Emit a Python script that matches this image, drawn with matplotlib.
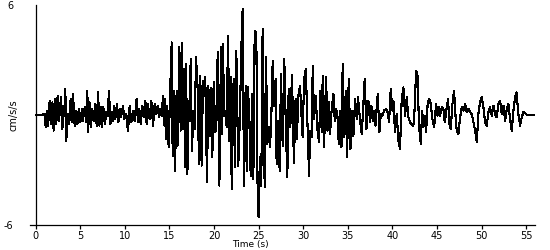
import matplotlib
matplotlib.use("Agg")
import matplotlib.pyplot as plt

# Time of each peak/trough (s)
time_s = [
    0.0, 0.74, 1.0, 1.12, 1.27, 1.38, 1.57, 1.68, 1.87, 2.01, 2.16, 2.31, 2.46, 2.61,
    2.84, 2.99, 3.10, 3.25, 3.32, 3.43, 3.58, 3.73, 3.92, 4.03, 4.18, 4.37, 4.56, 4.67,
    4.86, 5.0, 5.19, 5.3, 5.49, 5.68, 5.79, 5.87, 6.05, 6.2, 6.35, 6.5, 6.69, 6.84,
    6.99, 7.14, 7.29, 7.44, 7.59, 7.77, 7.92, 8.07, 8.22, 8.37, 8.52, 8.67, 8.82, 8.93,
    9.12, 9.27, 9.42, 9.57, 9.79, 9.94, 10.16, 10.35, 10.54, 10.72, 10.91, 11.1, 11.32,
    11.47, 11.62, 11.77, 11.96, 12.11, 12.3, 12.44, 12.59, 12.78, 12.97, 13.16, 13.34,
    13.53, 13.68, 13.83, 13.98, 14.13, 14.28, 14.43, 14.54,
    14.61, 14.76, 14.91, 15.06, 15.25, 15.36, 15.51, 15.62, 15.81, 15.92, 16.11, 16.26,
    16.37, 16.48, 16.63, 16.74, 16.86, 17.01, 17.16, 17.27, 17.38, 17.53, 17.68, 17.83,
    17.98, 18.16, 18.31, 18.46, 18.61, 18.76, 18.91, 19.02, 19.21, 19.36, 19.55, 19.66,
    19.81, 19.96, 20.15, 20.3, 20.41, 20.6, 20.78, 20.89, 21.01, 21.12, 21.27, 21.42,
    21.57, 21.72, 21.87, 21.98,
    22.2, 22.35, 22.5, 22.72, 22.91, 23.06, 23.21, 23.36, 23.55, 23.66, 23.81, 23.96,
    24.11, 24.26, 24.41, 24.56, 24.74, 24.89, 25.0, 25.15, 25.3, 25.45, 25.68, 25.83,
    25.98, 26.13, 26.28, 26.43, 26.58, 26.72, 26.91, 27.02, 27.21, 27.36, 27.51, 27.7,
    27.88, 28.07, 28.22, 28.37, 28.56, 28.74, 28.96, 29.15, 29.3, 29.45, 29.64, 29.94,
    30.1, 30.29, 30.66, 30.77, 30.96, 31.07, 31.22, 31.41, 31.59, 31.78, 31.93, 32.08,
    32.19, 32.34, 32.57, 32.72, 32.87, 33.01, 33.2, 33.39, 33.54, 33.69, 33.84, 33.99,
    34.14, 34.29, 34.43, 34.62, 34.77, 34.92, 35.11, 35.3, 35.48, 35.63, 35.82, 36.01,
    36.15, 36.38, 36.57, 36.75, 36.9, 37.09, 37.31, 37.5, 37.65, 37.8, 37.95, 38.1,
    38.36, 38.55, 38.7, 38.88, 39.07, 39.3, 39.44, 39.63, 39.82, 40.0, 40.12, 40.3,
    40.49, 40.68, 40.86, 41.05, 41.24, 41.43, 41.61, 41.8, 41.99, 42.18, 42.36,
    42.51, 42.66, 42.81, 43.0, 43.19, 43.34, 43.48, 43.63, 43.78, 43.97, 44.16, 44.31,
    44.49, 44.68, 44.91, 45.06, 45.2, 45.35, 45.54, 45.73, 45.88, 46.1, 46.25, 46.4,
    46.55, 46.74, 46.92, 47.07, 47.22, 47.41, 47.6, 47.78, 47.97, 48.16, 48.35, 48.53,
    48.72, 48.91, 49.09, 49.28, 49.47, 49.65, 49.84, 50.03, 50.21, 50.4, 50.59, 50.77,
    50.96, 51.15, 51.34, 51.52, 51.71, 51.9, 52.08, 52.27, 52.46, 52.65, 52.83, 53.02,
    53.2, 53.39, 53.58, 53.77, 53.92, 54.14, 54.33, 54.51, 54.7, 54.89, 55.07, 56.0,
]

# Acceleration at those times (cm/s/s)
accel = [
    0.0, 0.0, 0.07, -0.67, 0.24, -0.58, 0.78, -0.49, 0.69, -0.85, 0.87, -0.49, 1.05, -0.31,
    0.96, -0.76, 0.51, -0.04, 1.42, -1.4, 0.05, -0.49, 0.87, -0.4, 1.15, -0.58, 0.24, -0.49,
    0.33, -0.4, 0.33, -0.31, 0.42, -0.4, 1.33, -0.95, 0.69, -0.67, 0.33, -0.31, 0.6, -0.58,
    1.24, -0.58, 0.42, -0.67, 0.42, -0.49, 0.15, -0.04, 1.33, -0.49, 0.15, -0.31, 0.51, -0.22,
    0.6, -0.4, 0.33, -0.13, 0.51, -0.22, 0.05, -0.9, 0.51, -0.4, 0.24, -0.31, 0.87,
    -0.4, 0.33, -0.49, 0.51, -0.13, 0.78, -0.49, 0.6, -0.22, 0.78, -0.58, 0.6,
    0.05, 0.51, -0.13, 0.33, -0.04, 1.05, -0.58, 0.87,
    -1.31, 0.51, -1.76, 0.96, 3.96, -2.22, 1.33, -3.04, 1.33, -1.67, 3.69, -0.85,
    3.91, -0.76, 2.51, -2.85, 2.78, -3.22, 0.78, -0.31, 3.05, -1.95, 0.24, -0.76,
    3.15, 1.5, -2.67, 2.15, -2.76, 1.87, 1.05, 2.05, -3.67, 1.6, -1.13, 1.5,
    -2.31, 1.78, -0.95, 0.24, 3.42, -3.85, 3.69, -1.04, 3.87, -0.04, 0.24, -0.67,
    4.33, -1.4, 2.05, -4.04,
    1.96, -2.85, 3.51, -2.76, 0.05, 3.6, 5.78, -3.85, 1.6, -3.04, 1.51, -0.22,
    -3.31, 1.15, -3.49, 4.6, 4.51, -4.22, -5.58, -2.31, -3.85, 4.69, -3.95, 3.15,
    -1.58, -0.67, -1.76, -0.04, 2.96, 0.51, 1.96, -2.67, -0.31, -3.04, 2.24, -1.67,
    3.05, -0.95, -3.4, 1.42, -0.67, 2.2, -2.6, 0.9, -1.3, 1.05, 1.6, -1.22,
    1.96, 2.51, -3.31, -0.85, -1.22, 2.69, -0.22, 1.05, -0.76, -1.49, 1.33, -0.95,
    2.15, -1.76, 2.05, -0.85, 0.69, -1.04, 0.33, 1.15, -0.31, 0.33, -0.04, -1.58,
    0.24, -1.76, 2.78, -1.22, 1.33, -2.31, 1.96, -1.85, 0.24, -1.13, 0.87, -0.22,
    0.96, -0.31, -1.04, 0.6, 1.96, -0.76, 0.78, -0.4, 0.51, -0.31, 0.24, -0.58,
    1.15, -0.95, 0.05, -0.04, 0.24, 0.33, 0.24, -0.4, 1.42, 0.24, 0.78, -0.95,
    0.05, -1.4, -1.85, 0.87, 1.51, -0.04, 0.96, -0.13, -0.4, -0.49, -0.58,
    0.42, 2.42, 2.24, -0.67, -1.58, 0.24, -0.67, -0.04, -0.95, 0.69, 0.87, 0.6,
    -0.22, -0.67, 0.6, -0.04, 0.42, -0.04, 0.42, 0.33, -0.4, 0.42, 0.87, -0.49,
    -0.76, 0.6, 1.33, 0.05, -0.85, -1.04, -0.13, 0.42, 0.24, 0.6, 0.15, 0.33,
    0.15, 0.05, -0.4, -0.85, -1.49, 0.05, 0.69, 0.96, 0.42, -0.4, -0.58, 0.15,
    0.42, -0.04, 0.51, 0.05, -0.13, 0.6, 0.78, 0.05, 0.51, -0.31, 0.33, 0.6,
    -0.22, -0.85, 0.24, 0.96, 1.24, 0.05, -0.58, -0.13, 0.15, 0.09, 0.02, 0.02,
]

x_ticks = [0, 5, 10, 15, 20, 25, 30, 35, 40, 45, 50, 55]
y_ticks = [-6, 6]

fig = plt.figure(figsize=(5.5, 2.5), dpi=100)
ax = fig.add_axes([30 / 550, 25 / 250, 505 / 550, 220 / 250])
ax.plot(time_s, accel, color="black", linewidth=0.8, antialiased=False)

ax.set_xlim(-0.64, 56.0)
ax.set_ylim(-6, 6)
ax.spines["top"].set_visible(False)
ax.spines["right"].set_visible(False)
ax.spines["left"].set_position(("data", 0))
for s in ("left", "bottom"):
    ax.spines[s].set_linewidth(0.9)
    ax.spines[s].set_color("black")

ax.set_xticks(x_ticks)
ax.set_xticklabels([str(v) for v in x_ticks])
ax.set_yticks(y_ticks)
ax.set_yticklabels([str(v) for v in y_ticks])
ax.tick_params(axis="x", direction="out", length=3, width=0.9, pad=1, labelsize=7)
ax.tick_params(axis="y", length=0, pad=16, labelsize=7)

fig.text(250 / 550, 0.5 / 250, "Time (s)", ha="center", va="bottom", fontsize=6.5)
fig.text(13 / 550, 1 - 115 / 250, "cm/s/s", ha="center", va="center",
         rotation=90, fontsize=7)

fig.savefig("out.png", dpi=100)
